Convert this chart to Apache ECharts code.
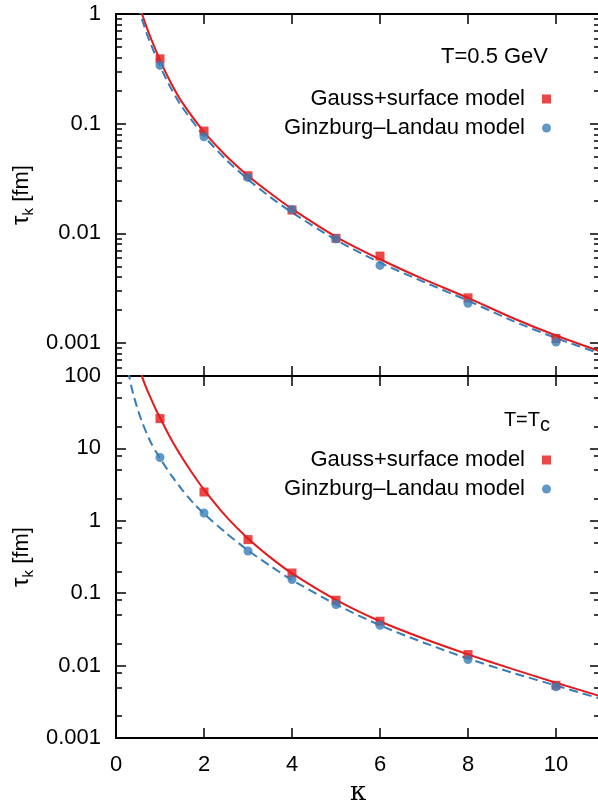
<!DOCTYPE html>
<html><head><meta charset="utf-8">
<script src="https://cdn.jsdelivr.net/npm/echarts@6/dist/echarts.min.js"></script>
<style>html,body{margin:0;padding:0;background:#fff}#c{width:598px;height:803px}</style>
</head><body><div id="c"></div>
<script>
// ---- data ----
const kappaPts = [1, 2, 3, 4, 5, 6, 8, 10];
// top panel: T = 0.5 GeV
const topGauss = [0.39, 0.0857, 0.0335, 0.0163, 0.0090, 0.0062, 0.00258, 0.00110];
const topGL    = [0.34, 0.076, 0.0323, 0.0165, 0.0089, 0.0051, 0.0023, 0.00102];
const topGaussCurveK = [0.55, 0.6, 0.7, 0.8, 1, 1.25, 1.5, 2, 2.5, 3, 3.5, 4, 5, 6, 7, 8, 9, 10, 11];
const topGaussCurve  = [1.15, 0.98, 0.75, 0.59, 0.38, 0.235, 0.157, 0.084, 0.051, 0.0335, 0.0233, 0.0167, 0.0093, 0.0058, 0.0038, 0.00258, 0.0017, 0.00117, 0.00084];
const topGLCurveK = [0.5, 0.55, 0.6, 0.7, 0.8, 1, 1.25, 1.5, 2, 2.5, 3, 3.5, 4, 5, 6, 7, 8, 9, 10, 11];
const topGLCurve  = [1.2, 1.0, 0.87, 0.66, 0.52, 0.335, 0.21, 0.142, 0.077, 0.047, 0.031, 0.0215, 0.0155, 0.0087, 0.0054, 0.0036, 0.00243, 0.0016, 0.00111, 0.00080];
// bottom panel: T = Tc
const botGauss = [25.8, 2.5, 0.55, 0.19, 0.080, 0.041, 0.0142, 0.00535];
const botGL    = [7.5, 1.28, 0.383, 0.154, 0.0697, 0.036, 0.0121, 0.0051];
const botGaussCurveK = [0.55, 0.6, 0.7, 0.8, 0.9, 1, 1.25, 1.5, 1.75, 2, 2.5, 3, 3.5, 4, 5, 6, 7, 8, 9, 10, 11];
const botGaussCurve  = [130, 95, 66, 48, 35, 26.5, 13.5, 7.5, 4.4, 2.7, 1.15, 0.57, 0.315, 0.188, 0.081, 0.041, 0.0235, 0.0143, 0.0090, 0.0058, 0.0038];
const botGLCurveK = [0.28, 0.3, 0.35, 0.4, 0.5, 0.6, 0.7, 0.8, 0.9, 1, 1.25, 1.5, 1.75, 2, 2.5, 3, 3.5, 4, 5, 6, 7, 8, 9, 10, 11];
const botGLCurve  = [118, 100, 71, 54, 33.5, 22.5, 16, 11.8, 9.2, 7.3, 4.3, 2.7, 1.78, 1.25, 0.68, 0.39, 0.24, 0.152, 0.070, 0.036, 0.0207, 0.0125, 0.0080, 0.0053, 0.0035];
// ticks
const xTicks = [0, 2, 4, 6, 8, 10];
const topYTicks = [0.001, 0.01, 0.1, 1];
const botYTicks = [0.001, 0.01, 0.1, 1, 10, 100];
const topYMinor = [0.0006, 0.0007, 0.0008, 0.0009,
  0.002, 0.003, 0.004, 0.005, 0.006, 0.007, 0.008, 0.009,
  0.02, 0.03, 0.04, 0.05, 0.06, 0.07, 0.08, 0.09,
  0.2, 0.3, 0.4, 0.5, 0.6, 0.7, 0.8, 0.9];
const botYMinor = [0.002, 0.005, 0.008, 0.02, 0.05, 0.08, 0.2, 0.5, 0.8, 2, 5, 8, 20, 50, 80];
const topYRange = [0.0005, 1];
const botYRange = [0.001, 100];
const seriesNames = ['Gauss+surface model', 'Ginzburg\u2013Landau model'];

// ---- chart ----
const FONT = '"Liberation Sans", Arial, Helvetica, sans-serif';
const RED = '#e41a1c', BLUE = '#377eb8';
const fmt = v => String(Number(Number(v).toPrecision(3)));
const blank = () => '';
const zip = (a, b) => a.map((v, i) => [v, b[i]]);
const lg = v => Math.log10(v);

function xAx(grid, pos, labels, name) {
  return {
    type: 'value', gridIndex: grid, position: pos, offset: 0, min: 0, max: 11, interval: 2,
    axisLine: { show: true, onZero: false, lineStyle: { color: '#000', width: 2 } },
    axisTick: { show: true, inside: true, length: 10, customValues: xTicks, lineStyle: { color: '#000', width: 1.5 } },
    axisLabel: { show: true, customValues: xTicks, formatter: labels ? fmt : blank, margin: 16, color: '#000', fontSize: 22, fontFamily: FONT },
    splitLine: { show: false },
    name: name || '', nameLocation: 'middle', nameGap: 42, nameMoveOverlap: false,
    nameTextStyle: { color: '#000', fontSize: 26, fontFamily: '"DejaVu Serif", "Liberation Serif", serif' }
  };
}
// data axis (log scale) with major ticks and labels
function yLog(grid, pos, range, ticks, labels, name) {
  return {
    type: 'log', logBase: 10, gridIndex: grid, position: pos, offset: 0, min: range[0], max: range[1],
    axisLine: { show: true, onZero: false, lineStyle: { color: '#000', width: 2 } },
    axisTick: { show: true, inside: true, length: 10, customValues: ticks, lineStyle: { color: '#000', width: 1.5 } },
    axisLabel: { show: true, customValues: ticks, formatter: labels ? fmt : blank, margin: 15, color: '#000', fontSize: 22, fontFamily: FONT },
    splitLine: { show: false }, minorTick: { show: false },
    name: name || '', nameLocation: 'middle', nameGap: 80, nameRotate: 90, nameMoveOverlap: false,
    nameTextStyle: {
      color: '#000', fontSize: 22, fontFamily: FONT,
      rich: {
        t: { fontSize: 24, lineHeight: 29, fontFamily: FONT, color: '#000' },
        k: { fontSize: 15, verticalAlign: 'bottom', fontFamily: FONT, color: '#000' },
        f: { fontSize: 22, lineHeight: 29, fontFamily: FONT, color: '#000' }
      }
    }
  };
}
// tick-only axis in decade (log10) units, for the minor ticks of the log scale
function yMinor(grid, pos, range, ticks) {
  const vals = ticks.map(lg);
  return {
    type: 'value', gridIndex: grid, position: pos, offset: 0, min: lg(range[0]), max: lg(range[1]),
    axisLine: { show: true, onZero: false, lineStyle: { color: '#000', width: 2 } },
    axisTick: { show: true, inside: true, length: 6, customValues: vals, lineStyle: { color: '#000', width: 1.5 } },
    axisLabel: { show: true, customValues: vals, formatter: blank, fontSize: 10 },
    splitLine: { show: false }, minorTick: { show: false }
  };
}
const yName = '{t|\u03c4}{k|k}{f| [fm]}';

const legendCommon = {
  data: seriesNames, orient: 'vertical', align: 'right', right: 47, padding: 0,
  itemWidth: 9, itemHeight: 9, itemGap: 7, selectedMode: false,
  textStyle: { fontSize: 22, color: '#000', fontFamily: FONT, padding: [0, 12, 0, 0] }
};

const option = {
  animation: false,
  backgroundColor: '#fff',
  grid: [
    { left: 116, top: 14, width: 484, height: 362, outerBoundsMode: 'none' },
    { left: 116, top: 376, width: 484, height: 362, outerBoundsMode: 'none' }
  ],
  title: [
    { text: 'T=0.5 GeV', right: 50, top: 46, padding: 0,
      textStyle: { fontSize: 22, fontWeight: 'normal', color: '#000', fontFamily: FONT } },
    { text: '{a|T=T}{b|c}', right: 48, top: 405, padding: 0,
      textStyle: { fontSize: 20, fontWeight: 'normal', color: '#000', fontFamily: FONT,
        rich: { a: { fontSize: 20, lineHeight: 30, fontFamily: FONT, color: '#000' },
                b: { fontSize: 20, verticalAlign: 'bottom', fontFamily: FONT, color: '#000' } } } }
  ],
  legend: [
    Object.assign({}, legendCommon, { top: 88 }),
    Object.assign({}, legendCommon, { top: 449 })
  ],
  xAxis: [
    xAx(0, 'bottom', false), xAx(0, 'top', false),
    xAx(1, 'bottom', true, '\u03ba'), xAx(1, 'top', false)
  ],
  yAxis: [
    yLog(0, 'left', topYRange, topYTicks, true, yName),
    yMinor(0, 'left', topYRange, topYMinor),
    yLog(0, 'right', topYRange, topYTicks, false),
    yMinor(0, 'right', topYRange, topYMinor),
    yLog(1, 'left', botYRange, botYTicks, true, yName),
    yMinor(1, 'left', botYRange, botYMinor),
    yLog(1, 'right', botYRange, botYTicks, false),
    yMinor(1, 'right', botYRange, botYMinor)
  ],
  series: [
    { name: 'gs-fit-top', type: 'line', xAxisIndex: 0, yAxisIndex: 0, data: zip(topGaussCurveK, topGaussCurve),
      symbol: 'none', smooth: 0.25, clip: true, silent: true,
      lineStyle: { color: RED, width: 2 }, z: 2 },
    { name: 'gl-fit-top', type: 'line', xAxisIndex: 0, yAxisIndex: 0, data: zip(topGLCurveK, topGLCurve),
      symbol: 'none', smooth: 0.25, clip: true, silent: true,
      lineStyle: { color: BLUE, width: 2, type: [9, 5] }, z: 2 },
    { name: seriesNames[0], type: 'scatter', xAxisIndex: 0, yAxisIndex: 0, data: zip(kappaPts, topGauss),
      symbol: 'rect', symbolSize: 9, itemStyle: { color: RED }, z: 3 },
    { name: seriesNames[1], type: 'scatter', xAxisIndex: 0, yAxisIndex: 0, data: zip(kappaPts, topGL),
      symbol: 'circle', symbolSize: 9, itemStyle: { color: BLUE }, z: 4 },
    { name: 'gs-fit-bot', type: 'line', xAxisIndex: 2, yAxisIndex: 4, data: zip(botGaussCurveK, botGaussCurve),
      symbol: 'none', smooth: 0.25, clip: true, silent: true,
      lineStyle: { color: RED, width: 2 }, z: 2 },
    { name: 'gl-fit-bot', type: 'line', xAxisIndex: 2, yAxisIndex: 4, data: zip(botGLCurveK, botGLCurve),
      symbol: 'none', smooth: 0.25, clip: true, silent: true,
      lineStyle: { color: BLUE, width: 2, type: [9, 5] }, z: 2 },
    { name: seriesNames[0], type: 'scatter', xAxisIndex: 2, yAxisIndex: 4, data: zip(kappaPts, botGauss),
      symbol: 'rect', symbolSize: 9, itemStyle: { color: RED }, z: 3 },
    { name: seriesNames[1], type: 'scatter', xAxisIndex: 2, yAxisIndex: 4, data: zip(kappaPts, botGL),
      symbol: 'circle', symbolSize: 9, itemStyle: { color: BLUE }, z: 4 }
  ]
};
const chart = echarts.init(document.getElementById('c'), null, { renderer: 'canvas' });
chart.setOption(option);
</script>
</body></html>
